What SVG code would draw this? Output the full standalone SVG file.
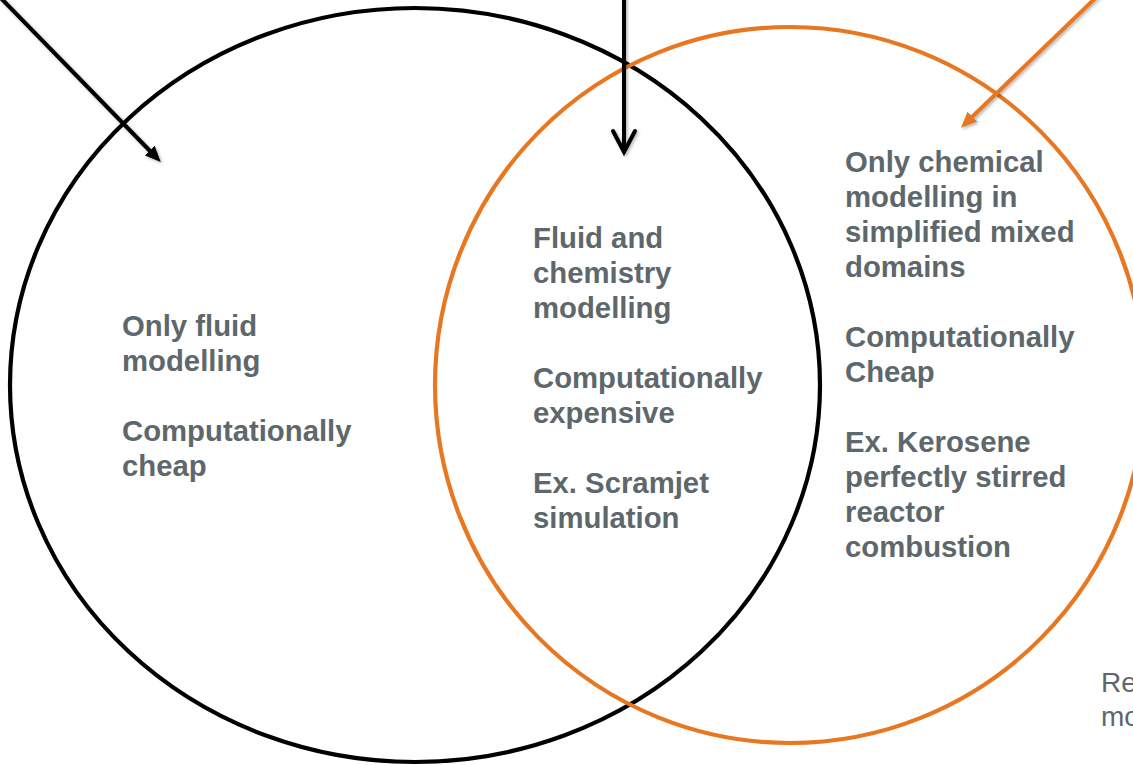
<svg xmlns="http://www.w3.org/2000/svg" width="1133" height="765" viewBox="0 0 1133 765">
  <style>
    .lbl { font-family: "Liberation Sans", Arial, sans-serif; font-weight: bold; font-size: 29.3px; fill: #5e686c; }
    .note { font-family: "Liberation Sans", Arial, sans-serif; font-size: 28px; fill: #5e686c; }
    .set { fill: none; stroke-width: 4.2; }
    .conn { fill: none; stroke-width: 4; filter: url(#shadow); }
  </style>
  <defs>
    <filter id="shadow" filterUnits="userSpaceOnUse" x="-50" y="-50" width="1233" height="865">
      <feDropShadow dx="1.5" dy="1.5" stdDeviation="1.5" flood-color="#000" flood-opacity="0.3"/>
    </filter>
    <marker id="triBlack" markerUnits="userSpaceOnUse" viewBox="0 0 16 14" markerWidth="16" markerHeight="14" refX="2" refY="7" orient="auto">
      <path d="M0,0 L16,7 L0,14 z" fill="#000"/>
    </marker>
    <marker id="triOrange" markerUnits="userSpaceOnUse" viewBox="0 0 16 14" markerWidth="16" markerHeight="14" refX="2" refY="7" orient="auto">
      <path d="M0,0 L16,7 L0,14 z" fill="#e87722"/>
    </marker>
    <marker id="vee" markerUnits="userSpaceOnUse" viewBox="-4 -4 32 30" markerWidth="32" markerHeight="30" refX="21" refY="11" orient="auto" overflow="visible">
      <path d="M0,0 L21,11 L0,22" fill="none" stroke="#000" stroke-width="4" stroke-linejoin="miter" stroke-linecap="round"/>
    </marker>
  </defs>

  <g id="set-fluid">
    <ellipse class="set" cx="415" cy="385" rx="405" ry="377" stroke="#000"/>
    <text class="lbl" x="122" y="336">Only fluid</text>
    <text class="lbl" x="122" y="371">modelling</text>
    <text class="lbl" x="122" y="441">Computationally</text>
    <text class="lbl" x="122" y="476">cheap</text>
  </g>

  <g id="set-chemistry">
    <ellipse class="set" cx="790" cy="385" rx="355" ry="358" stroke="#e87722"/>
    <text class="lbl" x="845" y="172">Only chemical</text>
    <text class="lbl" x="845" y="207">modelling in</text>
    <text class="lbl" x="845" y="242">simplified mixed</text>
    <text class="lbl" x="845" y="277">domains</text>
    <text class="lbl" x="845" y="347">Computationally</text>
    <text class="lbl" x="845" y="382">Cheap</text>
    <text class="lbl" x="845" y="452">Ex. Kerosene</text>
    <text class="lbl" x="845" y="487">perfectly stirred</text>
    <text class="lbl" x="845" y="522">reactor</text>
    <text class="lbl" x="845" y="557">combustion</text>
  </g>

  <g id="overlap">
    <text class="lbl" x="533" y="248">Fluid and</text>
    <text class="lbl" x="533" y="283">chemistry</text>
    <text class="lbl" x="533" y="318">modelling</text>
    <text class="lbl" x="533" y="388">Computationally</text>
    <text class="lbl" x="533" y="423">expensive</text>
    <text class="lbl" x="533" y="493">Ex. Scramjet</text>
    <text class="lbl" x="533" y="528">simulation</text>
  </g>

  <g id="note">
    <text class="note" x="1101" y="692">Re</text>
    <text class="note" x="1101" y="726">mo</text>
  </g>

  <g id="connectors">
    <line class="conn" x1="-7" y1="-10" x2="151" y2="152" stroke="#000" marker-end="url(#triBlack)"/>
    <line class="conn" x1="624" y1="-5" x2="624" y2="152" stroke="#000" marker-end="url(#vee)"/>
    <line class="conn" x1="1111" y1="-17" x2="971" y2="118" stroke="#e87722" marker-end="url(#triOrange)"/>
  </g>
</svg>
